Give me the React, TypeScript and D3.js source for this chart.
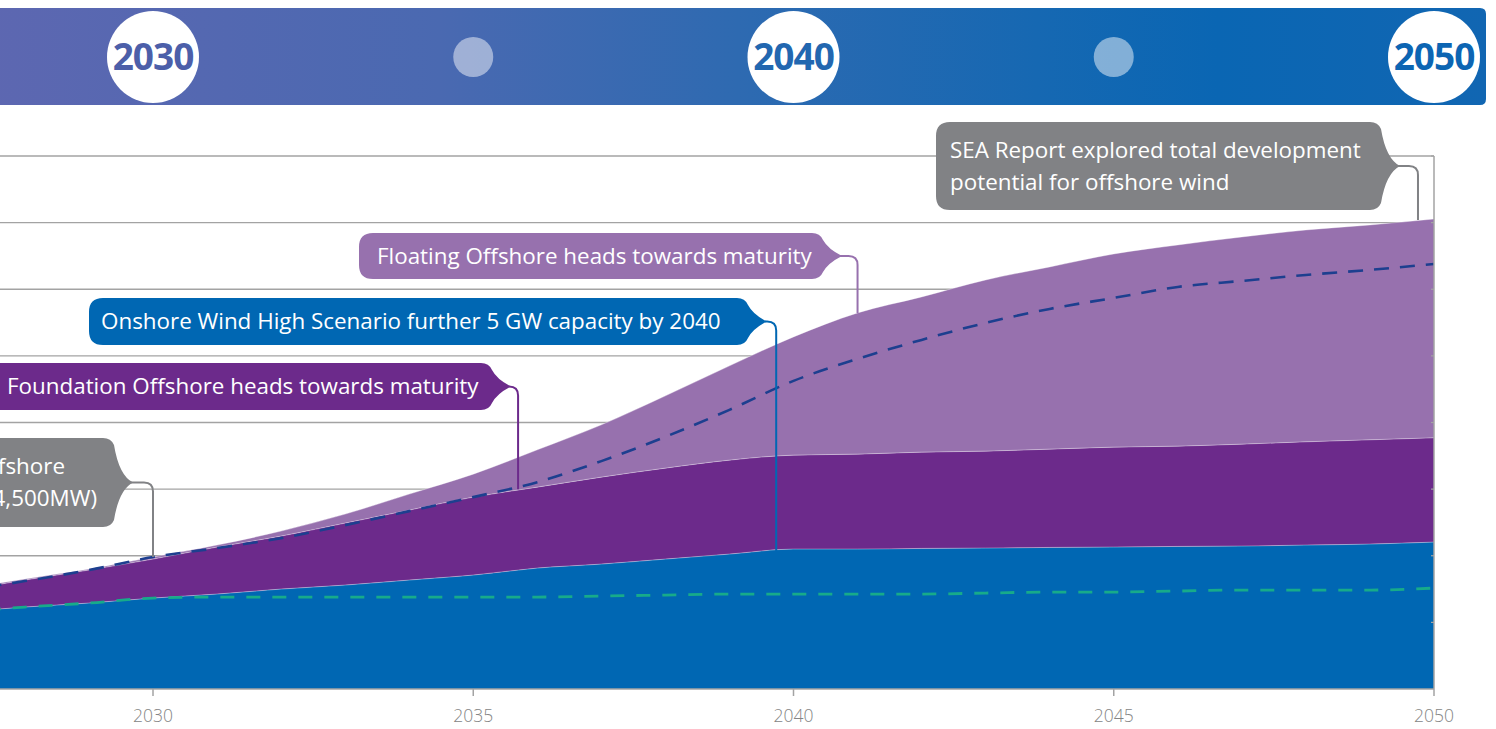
import React from "react";
import * as d3 from "d3";

// ---------- DATA ----------
const years = [2027, 2028, 2029, 2030, 2031, 2032, 2033, 2034, 2035, 2036, 2037, 2038, 2039, 2040, 2041, 2042, 2043, 2044, 2045, 2046, 2047, 2048, 2049, 2050];
// Stacked layers (GW)
const onshoreWind = [2.31, 2.46, 2.58, 2.73, 2.85, 3.0, 3.12, 3.27, 3.42, 3.63, 3.75, 3.9, 4.05, 4.2, 4.2, 4.22, 4.23, 4.25, 4.26, 4.28, 4.29, 4.32, 4.35, 4.41];
const fixedOffshore = [0.63, 0.81, 0.99, 1.17, 1.41, 1.59, 1.86, 2.1, 2.34, 2.43, 2.61, 2.73, 2.82, 2.82, 2.85, 2.89, 2.91, 2.95, 3.0, 3.01, 3.06, 3.1, 3.13, 3.13];
const floatingOffshore = [0.06, 0.03, 0.03, 0.06, 0.06, 0.15, 0.27, 0.48, 0.69, 1.12, 1.57, 2.17, 2.83, 3.55, 4.24, 4.66, 5.14, 5.47, 5.8, 6.04, 6.22, 6.36, 6.45, 6.57];
// Dashed lines
const totalScenario = [2.94, 3.24, 3.57, 3.96, 4.23, 4.53, 4.92, 5.34, 5.76, 6.21, 6.84, 7.57, 8.38, 9.25, 9.91, 10.48, 10.99, 11.41, 11.74, 12.07, 12.25, 12.43, 12.58, 12.76];
const onshoreBaseline = [2.31, 2.46, 2.58, 2.73, 2.76, 2.76, 2.76, 2.76, 2.76, 2.76, 2.79, 2.82, 2.85, 2.85, 2.85, 2.85, 2.88, 2.91, 2.91, 2.94, 2.97, 2.97, 2.97, 3.03];

const xTickYears = [2030, 2035, 2040, 2045, 2050];
const yGridValues = [2, 4, 6, 8, 10, 12, 14, 16];

const milestoneYears = [2030, 2035, 2040, 2045, 2050];
const milestoneLabels = ["2030", "", "2040", "", "2050"];

const annotationTexts = [
  ["SEA Report explored total development", "potential for offshore wind"],
  ["Floating Offshore heads towards maturity"],
  ["Onshore Wind High Scenario further 5 GW capacity by 2040"],
  ["Foundation Offshore heads towards maturity"],
  ["Offshore", "(4,500MW)"],
];
const annotationAnchorYears = [2049.75, 2041, 2039.73, 2035.7, 2030];
const annotationAnchorValues = [14.08, 11.29, 4.14, 6.0, 3.96];

// ---------- LAYOUT / STYLE ----------
const W = 1496;
const H = 729;
const COLORS = {
  onshore: "#0067b3",
  fixed: "#6c2a8b",
  floating: "#9771ae",
  total: "#1d3f8f",
  baseline: "#17ab8a",
  grid: "#a3a3a3",
  label: "#858585",
  grey: "#818285",
};
const boxes = [
  { x: 936, y: 122, right: 1378, h: 88, fill: COLORS.grey, tx: [950, 950], anchor: "start" },
  { x: 359, y: 233, right: 820, h: 46, fill: COLORS.floating, tx: [377], anchor: "start" },
  { x: 89, y: 298, right: 745, h: 47, fill: COLORS.onshore, tx: [101], anchor: "start" },
  { x: -400, y: 363, right: 489, h: 47, fill: COLORS.fixed, tx: [7], anchor: "start" },
  { x: -400, y: 438, right: 111, h: 89, fill: COLORS.grey, tx: [65, 97], anchor: "end" },
];

function calloutPath(x0: number, y0: number, right: number, h: number) {
  const r = 14;
  const y1 = y0 + h;
  const mid = y0 + h / 2;
  const tip = right + 22;
  return [
    `M${x0 + r},${y0}`,
    `H${right - 8}`,
    `Q${right},${y0} ${right + 3},${y0 + 7}`,
    `Q${right + 8},${mid - 7} ${tip},${mid}`,
    `Q${right + 8},${mid + 7} ${right + 3},${y1 - 7}`,
    `Q${right},${y1} ${right - 8},${y1}`,
    `H${x0 + r}`,
    `Q${x0},${y1} ${x0},${y1 - r}`,
    `V${y0 + r}`,
    `Q${x0},${y0} ${x0 + r},${y0}`,
    "Z",
  ].join(" ");
}

export default function App() {
  const x = d3.scaleLinear().domain([2030, 2050]).range([153, 1434]);
  const y = d3.scaleLinear().domain([0, 16]).range([689, 156]);

  const rows = years.map((yr, i) => ({
    year: yr,
    onshore: onshoreWind[i],
    fixed: fixedOffshore[i],
    floating: floatingOffshore[i],
  }));
  const stack = d3.stack<any>().keys(["onshore", "fixed", "floating"]);
  const series = stack(rows);
  const layerColors = [COLORS.onshore, COLORS.fixed, COLORS.floating];

  const area = d3
    .area<any>()
    .x((d) => x(d.data.year))
    .y0((d) => y(d[0]))
    .y1((d) => y(d[1]))
    .curve(d3.curveMonotoneX);
  const topLine = d3
    .line<any>()
    .x((d) => x(d.data.year))
    .y((d) => y(d[1]))
    .curve(d3.curveMonotoneX);
  const line = d3
    .line<number>()
    .x((_, i) => x(years[i]))
    .y((d) => y(d))
    .curve(d3.curveMonotoneX);

  const x0 = x(2030) - 160;
  const x1 = x(2050);

  return (
    <svg
      width={W}
      height={H}
      style={{ position: "absolute", left: 0, top: 0, fontFamily: "'Open Sans', sans-serif" }}
    >
      <defs>
        <linearGradient id="band" x1="0" x2="1" y1="0" y2="0">
          <stop offset="0" stopColor="#5d67b1" />
          <stop offset="0.3" stopColor="#4a69b1" />
          <stop offset="0.5" stopColor="#2e6ab1" />
          <stop offset="0.7" stopColor="#1668b2" />
          <stop offset="0.82" stopColor="#0a66b3" />
          <stop offset="1" stopColor="#1166b2" />
        </linearGradient>
      </defs>

      {/* header band */}
      <path
        d={`M-10,8 H1480 Q1486,8 1486,14 V99 Q1486,105 1480,105 H-10 Z`}
        fill="url(#band)"
      />
      {milestoneYears.map((yr, i) =>
        milestoneLabels[i] ? (
          <g key={yr}>
            <circle cx={x(yr)} cy={57} r={46} fill="#fff" />
            <text
              x={x(yr)}
              y={57}
              dy="0.36em"
              textAnchor="middle"
              fontWeight={700}
              fontSize={37}
              letterSpacing={-1}
              fill={i === 0 ? "#4c5fa9" : i === 2 ? "#2267b0" : "#0c65b3"}
            >
              {milestoneLabels[i]}
            </text>
          </g>
        ) : (
          <circle key={yr} cx={x(yr)} cy={57} r={20} fill="#fff" opacity={0.48} />
        )
      )}

      {/* gridlines */}
      {yGridValues.map((v) => (
        <line key={v} x1={x0} x2={x1} y1={y(v)} y2={y(v)} stroke={COLORS.grid} strokeWidth={1.3} />
      ))}

      {/* stacked areas */}
      {series.map((s, i) => (
        <path key={s.key} d={area(s) || ""} fill={layerColors[i]} />
      ))}
      {series.map((s) => (
        <path key={"t" + s.key} d={topLine(s) || ""} fill="none" stroke="#fff" strokeOpacity={0.35} strokeWidth={1} />
      ))}

      {/* dashed lines */}
      <path d={line(onshoreBaseline) || ""} fill="none" stroke={COLORS.baseline} strokeWidth={2.8} strokeDasharray="14 12" />
      <path d={line(totalScenario) || ""} fill="none" stroke={COLORS.total} strokeWidth={2.6} strokeDasharray="15 11" />

      {/* axes */}
      <line x1={x0} x2={x1} y1={y(0)} y2={y(0)} stroke={COLORS.grid} strokeWidth={1.5} />
      <line x1={x1} x2={x1} y1={y(16)} y2={y(0)} stroke={COLORS.grid} strokeWidth={1.5} />
      {yGridValues.map((v) => (
        <line key={"rt" + v} x1={x1 - 3} x2={x1} y1={y(v)} y2={y(v)} stroke={COLORS.grid} strokeWidth={1.2} />
      ))}
      {xTickYears.map((yr) => (
        <g key={yr}>
          <line x1={x(yr)} x2={x(yr)} y1={y(0)} y2={y(0) + 7} stroke={COLORS.grid} strokeWidth={1.5} />
          <text x={x(yr)} y={722} textAnchor="middle" fontSize={17.5} fontWeight={300} fill={COLORS.label}>
            {yr}
          </text>
        </g>
      ))}

      {/* annotations */}
      {boxes.map((b, i) => {
        const mid = b.y + b.h / 2;
        const tip = b.right + 22;
        const ax = x(annotationAnchorYears[i]);
        const ay = y(annotationAnchorValues[i]);
        const rr = 9;
        const lines = annotationTexts[i];
        return (
          <g key={i}>
            <path
              d={`M${tip - 2},${mid} H${ax - rr} Q${ax},${mid} ${ax},${mid + rr} V${ay}`}
              fill="none"
              stroke={b.fill}
              strokeWidth={2}
            />
            <path d={calloutPath(b.x, b.y, b.right, b.h)} fill={b.fill} />
            {lines.map((t, j) => (
              <text
                key={j}
                x={b.tx[j]}
                y={lines.length === 1 ? mid : b.y + 28 + j * 32}
                dy="0.35em"
                textAnchor={b.anchor as any}
                fontSize={22.4}
                fill="#fff"
              >
                {t}
              </text>
            ))}
          </g>
        );
      })}
    </svg>
  );
}
